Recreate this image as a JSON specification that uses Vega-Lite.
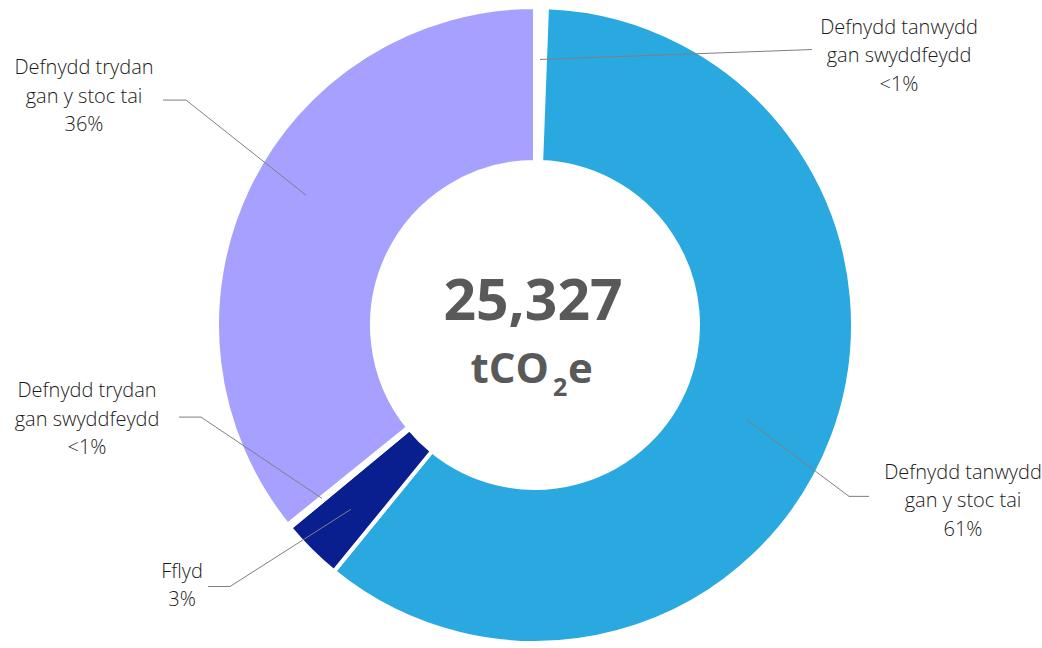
{
  "$schema": "https://vega.github.io/schema/vega-lite/v6.json",
  "width": 1042,
  "height": 648,
  "padding": 0,
  "autosize": {"type": "fit", "contains": "padding"},
  "background": "#FFFFFF",
  "config": {"view": {"stroke": null}},
  "datasets": {
    "slices": [
      {"category": "Defnydd tanwydd gan swyddfeydd", "value": 152, "order": 1},
      {"category": "Defnydd tanwydd gan y stoc tai", "value": 15270, "order": 2},
      {"category": "Fflyd", "value": 785, "order": 3},
      {"category": "Defnydd trydan gan swyddfeydd", "value": 50, "order": 4},
      {"category": "Defnydd trydan gan y stoc tai", "value": 9070, "order": 5}
    ],
    "labels": [
      {"text": "Defnydd tanwydd\ngan swyddfeydd\n<1%", "x": 364, "y": 300},
      {"text": "Defnydd trydan\ngan y stoc tai\n36%", "x": -451, "y": 259},
      {"text": "Defnydd trydan\ngan swyddfeydd\n<1%", "x": -448, "y": -67},
      {"text": "Fflyd\n3%", "x": -353, "y": -249},
      {"text": "Defnydd tanwydd\ngan y stoc tai\n61%", "x": 428, "y": -149}
    ],
    "leaders": [
      {"leader": "A", "i": 1, "x": 5, "y": 268},
      {"leader": "A", "i": 2, "x": 277, "y": 278},
      {"leader": "B", "i": 1, "x": -372, "y": 227},
      {"leader": "B", "i": 2, "x": -349, "y": 227},
      {"leader": "B", "i": 3, "x": -229, "y": 131},
      {"leader": "C", "i": 1, "x": -356, "y": -93},
      {"leader": "C", "i": 2, "x": -334, "y": -93},
      {"leader": "C", "i": 3, "x": -213, "y": -175},
      {"leader": "D", "i": 1, "x": -327, "y": -264},
      {"leader": "D", "i": 2, "x": -305, "y": -264},
      {"leader": "D", "i": 3, "x": -184, "y": -186},
      {"leader": "E", "i": 1, "x": 211, "y": -95},
      {"leader": "E", "i": 2, "x": 314, "y": -173},
      {"leader": "E", "i": 3, "x": 334, "y": -173}
    ]
  },
  "layer": [
    {
      "data": {"name": "slices"},
      "mark": {"type": "arc", "outerRadius": 318, "innerRadius": 163, "stroke": "#FFFFFF", "strokeWidth": 4},
      "encoding": {
        "x": {"datum": 0, "type": "quantitative", "scale": {"domain": [-535, 507], "nice": false, "zero": false}, "axis": null},
        "y": {"datum": 0, "type": "quantitative", "scale": {"domain": [-320, 328], "nice": false, "zero": false}, "axis": null},
        "theta": {"field": "value", "type": "quantitative", "stack": true},
        "order": {"field": "order", "type": "quantitative", "sort": "ascending"},
        "color": {
          "field": "category",
          "type": "nominal",
          "legend": null,
          "scale": {
            "domain": ["Defnydd tanwydd gan swyddfeydd", "Defnydd tanwydd gan y stoc tai", "Fflyd", "Defnydd trydan gan swyddfeydd", "Defnydd trydan gan y stoc tai"],
            "range": ["#FFFFFF", "#29A9E0", "#0A1F8F", "#FFFFFF", "#A6A1FF"]
          }
        }
      }
    },
    {
      "data": {"name": "leaders"},
      "mark": {"type": "line", "color": "#7F7F7F", "strokeWidth": 1},
      "encoding": {
        "x": {"field": "x", "type": "quantitative", "axis": null},
        "y": {"field": "y", "type": "quantitative", "axis": null},
        "detail": {"field": "leader", "type": "nominal"},
        "order": {"field": "i", "type": "quantitative"}
      }
    },
    {
      "data": {"name": "labels"},
      "mark": {"type": "text", "font": "Open Sans", "fontWeight": 300, "fontSize": 20, "lineHeight": 28.5, "lineBreak": "\n", "align": "center", "baseline": "middle", "color": "#1A1A1A"},
      "encoding": {
        "x": {"field": "x", "type": "quantitative", "axis": null},
        "y": {"field": "y", "type": "quantitative", "axis": null},
        "text": {"field": "text", "type": "nominal"}
      }
    },
    {
      "data": {"values": [{"text": "25,327", "x": -2, "y": 5}]},
      "mark": {"type": "text", "font": "Open Sans", "fontWeight": "bold", "fontSize": 57, "align": "center", "baseline": "alphabetic", "color": "#595959"},
      "encoding": {
        "x": {"field": "x", "type": "quantitative", "axis": null},
        "y": {"field": "y", "type": "quantitative", "axis": null},
        "text": {"field": "text", "type": "nominal"}
      }
    },
    {
      "data": {"values": [{"text": "tCO", "x": 14, "y": -59}]},
      "mark": {"type": "text", "font": "Open Sans", "fontWeight": "bold", "fontSize": 42, "align": "right", "baseline": "alphabetic", "color": "#595959"},
      "encoding": {
        "x": {"field": "x", "type": "quantitative", "axis": null},
        "y": {"field": "y", "type": "quantitative", "axis": null},
        "text": {"field": "text", "type": "nominal"}
      }
    },
    {
      "data": {"values": [{"text": "2", "x": 18, "y": -72}]},
      "mark": {"type": "text", "font": "Open Sans", "fontWeight": "bold", "fontSize": 25, "align": "left", "baseline": "alphabetic", "color": "#595959"},
      "encoding": {
        "x": {"field": "x", "type": "quantitative", "axis": null},
        "y": {"field": "y", "type": "quantitative", "axis": null},
        "text": {"field": "text", "type": "nominal"}
      }
    },
    {
      "data": {"values": [{"text": "e", "x": 33, "y": -59}]},
      "mark": {"type": "text", "font": "Open Sans", "fontWeight": "bold", "fontSize": 42, "align": "left", "baseline": "alphabetic", "color": "#595959"},
      "encoding": {
        "x": {"field": "x", "type": "quantitative", "axis": null},
        "y": {"field": "y", "type": "quantitative", "axis": null},
        "text": {"field": "text", "type": "nominal"}
      }
    }
  ]
}
